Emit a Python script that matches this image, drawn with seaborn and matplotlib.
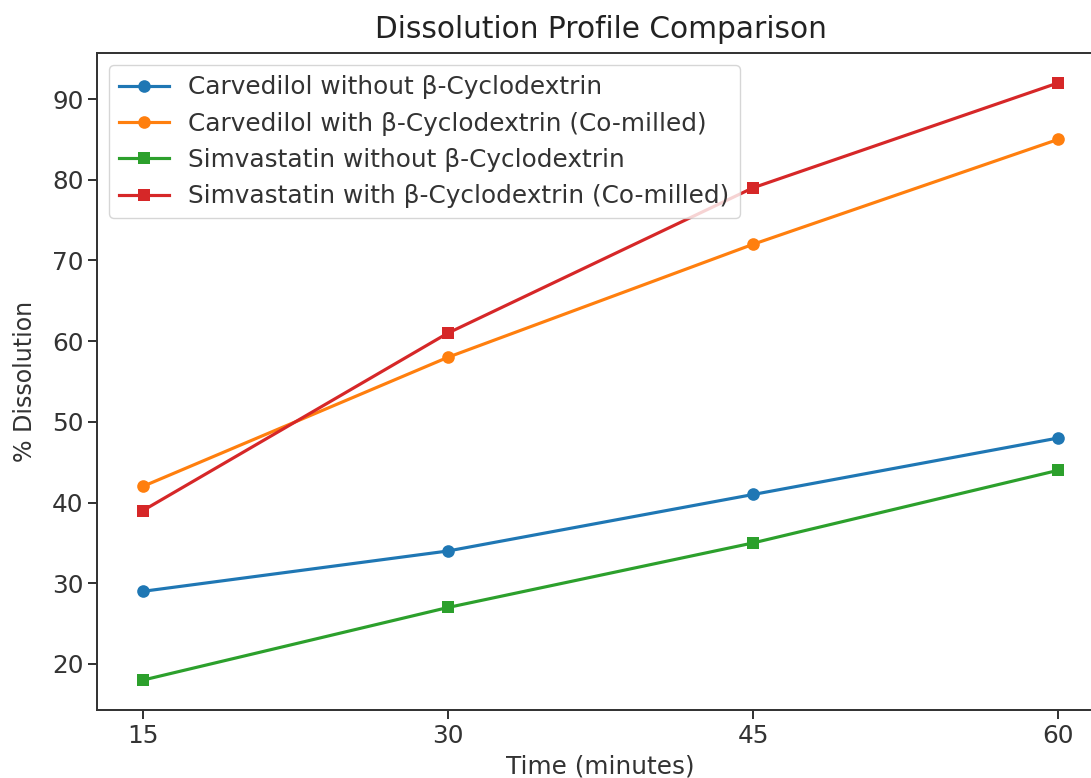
import matplotlib
matplotlib.use("Agg")
import matplotlib.pyplot as plt
import seaborn as sns
import pandas as pd

time_min = [15, 30, 45, 60]
carv_without = [29, 34, 41, 48]
carv_with = [42, 58, 72, 85]
simv_without = [18, 27, 35, 44]
simv_with = [39, 61, 79, 92]

labels = [
    "Carvedilol without β-Cyclodextrin",
    "Carvedilol with β-Cyclodextrin (Co-milled)",
    "Simvastatin without β-Cyclodextrin",
    "Simvastatin with β-Cyclodextrin (Co-milled)",
]
series = [carv_without, carv_with, simv_without, simv_with]
markers = ["o", "o", "s", "s"]
colors = ["#1f77b4", "#ff7f0e", "#2ca02c", "#d62728"]

plt.rcParams["font.family"] = ["DejaVu Sans"]
s = 1.78
fig = plt.figure(figsize=(10.91, 7.78), dpi=100)
ax = fig.add_axes([97 / 1091, 1 - 710 / 778, (1104 - 97) / 1091, (710 - 53) / 778])

for lab, vals, m, c in zip(labels, series, markers, colors):
    df = pd.DataFrame({"t": time_min, "v": vals})
    sns.lineplot(data=df, x="t", y="v", ax=ax, marker=m, color=c, label=lab,
                 linewidth=1.5 * s * 0.85, markersize=6 * s * 0.85, markeredgewidth=0)

ax.set_xticks(time_min)
ax.set_title("Dissolution Profile Comparison", fontsize=12 * s, pad=6 * s, color="#222222")
ax.set_xlabel("Time (minutes)", fontsize=10 * s, color="#333333", labelpad=5)
ax.set_ylabel("% Dissolution", fontsize=9.6 * s, color="#333333", labelpad=11)
ax.tick_params(labelsize=10 * s, length=3.5 * s, width=0.8 * s, colors="#333333")
for sp in ax.spines.values():
    sp.set_linewidth(0.8 * s)
    sp.set_color("#333333")
leg = ax.legend(loc="upper left", fontsize=10 * s, handlelength=2.0, borderpad=0.4,
                labelspacing=0.5)
for t in leg.get_texts():
    t.set_color("#333333")

fig.savefig("out.png", dpi=100)
